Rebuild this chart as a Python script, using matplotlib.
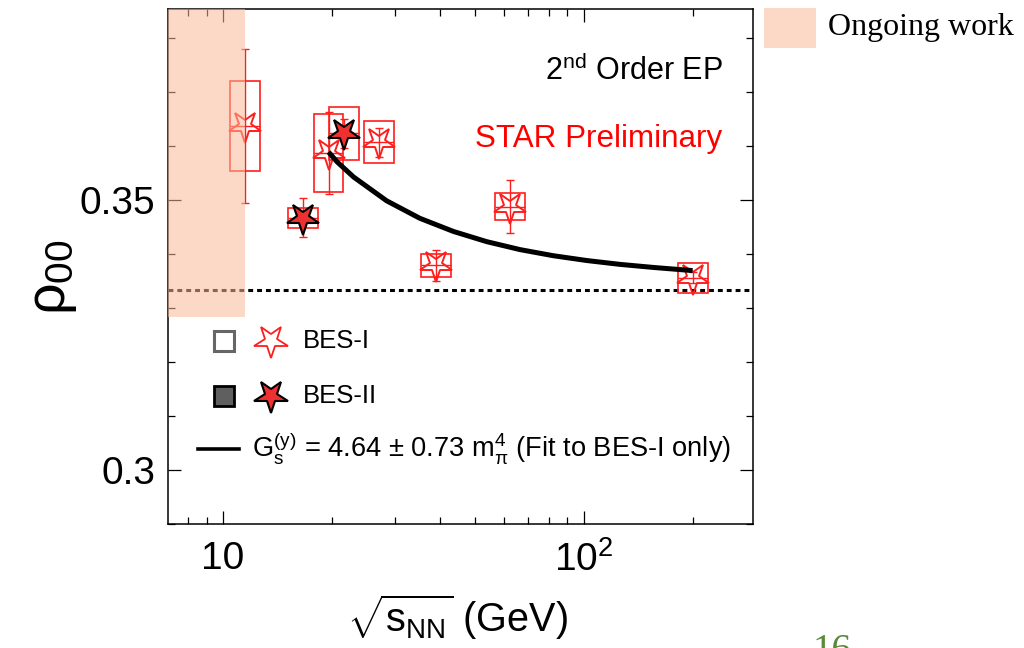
import numpy as np
import matplotlib
matplotlib.use("Agg")
import matplotlib.pyplot as plt
from matplotlib.markers import MarkerStyle
from matplotlib.transforms import Affine2D
from matplotlib.patches import Rectangle
from matplotlib.ticker import FixedLocator, LogLocator, MultipleLocator, FuncFormatter, NullFormatter

plt.rcParams["font.family"] = ["Liberation Sans", "DejaVu Sans"]
plt.rcParams["mathtext.fontset"] = "custom"
plt.rcParams["mathtext.rm"] = "Liberation Sans"
plt.rcParams["mathtext.it"] = "Liberation Sans"
plt.rcParams["mathtext.bf"] = "Liberation Sans:bold"
plt.rcParams["mathtext.sf"] = "Liberation Sans"

# ---- data ----
bes1_energy = [11.5, 19.6, 27.0, 39.0, 62.4, 200.0]
bes1_rho = [0.3637, 0.3587, 0.3607, 0.3379, 0.3488, 0.3356]
bes1_stat = [0.0142, 0.0076, 0.0027, 0.0029, 0.0049, 0.0010]
bes1_sys = [0.0083, 0.0072, 0.0039, 0.0021, 0.0025, 0.0028]

bes2_energy = [16.7, 21.6]
bes2_rho = [0.3467, 0.3624]
bes2_stat = [0.0036, 0.0027]
bes2_sys = [0.0018, 0.0049]

fit_energy = [19.6, 20.7, 23.0, 28.4, 35.1, 43.5, 53.8, 66.5, 82.2, 102.0, 126.0, 156.0, 200.0]
fit_rho = [0.35891, 0.35709, 0.35428, 0.34987, 0.34663, 0.34419, 0.34230, 0.34083,
           0.33970, 0.33880, 0.33809, 0.33752, 0.33694]

rho_unpolarized = 1.0 / 3.0
ongoing_energy_max = 11.5
ongoing_rho_min = 0.3284

# ---- style ----
RED = "#FF1E1E"
FILL_RED = "#EE3030"
PEACH = (250 / 255, 184 / 255, 151 / 255)
PEACH_ALPHA = 0.55
BOX_FACTOR = 1.10  # half-width of systematic boxes in log-x

star_down = MarkerStyle("*", transform=Affine2D().rotate_deg(180))

fig = plt.figure(figsize=(10.24, 6.48), dpi=100)
ax = fig.add_axes([168 / 1024, 1 - 524 / 648, 585 / 1024, 515 / 648])
ax.set_xscale("log")
ax.set_xlim(7.04, 294)
ax.set_ylim(0.29, 0.3854)


def draw_series(energy, rho, stat, sys, filled):
    e = np.asarray(energy)
    r = np.asarray(rho)
    s = np.asarray(sys)
    for ei, ri, si in zip(e, r, s):
        ax.add_patch(Rectangle((ei / BOX_FACTOR, ri - si), ei * BOX_FACTOR - ei / BOX_FACTOR, 2 * si,
                               fill=False, edgecolor=RED, lw=1.2, zorder=3))
    ax.hlines(r, e / BOX_FACTOR, e * BOX_FACTOR, color=RED, lw=1.0, zorder=3)
    ax.errorbar(e, r, yerr=stat, fmt="none", ecolor=RED, elinewidth=1.0,
                capsize=2.6, capthick=1.0, zorder=3)
    if filled:
        ax.plot(e, r, ls="none", marker=star_down, ms=24, mfc=FILL_RED, mec="black",
                mew=1.5, zorder=5)
    else:
        ax.plot(e, r, ls="none", marker=star_down, ms=24, mfc="none", mec=RED,
                mew=1.4, zorder=3.5)


draw_series(bes1_energy, bes1_rho, bes1_stat, bes1_sys, filled=False)
draw_series(bes2_energy, bes2_rho, bes2_stat, bes2_sys, filled=True)

# fit curve and the unpolarized baseline
ax.plot(fit_energy, fit_rho, color="black", lw=3.6, solid_capstyle="butt",
        solid_joinstyle="round", zorder=4)
ax.axhline(rho_unpolarized, color="black", lw=2.2, ls=(0, (1.6, 1.3)), zorder=2)

# shaded energy range still under study
ax.fill_between([ax.get_xlim()[0], ongoing_energy_max], ongoing_rho_min, ax.get_ylim()[1],
                color=PEACH, alpha=PEACH_ALPHA, lw=0, zorder=6)

# axes styling
for sp in ax.spines.values():
    sp.set_linewidth(1.1)
ax.xaxis.set_major_locator(FixedLocator([10, 100]))
ax.xaxis.set_minor_locator(LogLocator(base=10, subs=np.arange(2, 10), numticks=20))
ax.xaxis.set_major_formatter(FuncFormatter(lambda v, _: "10" if v < 50 else r"$10^{2}$"))
ax.xaxis.set_minor_formatter(NullFormatter())
ax.yaxis.set_major_locator(MultipleLocator(0.05))
ax.yaxis.set_minor_locator(MultipleLocator(0.01))
ax.yaxis.set_major_formatter(FuncFormatter(lambda v, _: "%g" % round(v, 3)))
ax.tick_params(which="both", direction="in", top=True, right=True, width=0.9)
ax.tick_params(which="major", length=9.5, labelsize=28)
ax.tick_params(axis="y", which="major", pad=9)
ax.tick_params(axis="x", which="major", pad=12)
ax.tick_params(which="minor", length=5)

ax.set_ylabel(r"$\rho_{00}$", fontsize=40)
ax.yaxis.set_label_coords(-0.152, 0.478)
ax.set_xlabel(r"$\sqrt{s_{\mathrm{NN}}}$ (GeV)", fontsize=28.5)
ax.xaxis.set_label_coords(0.495, -0.132)

# in-plot annotations
ax.text(0.9487, 0.8621, r"2$^{\mathrm{nd}}$ Order EP", transform=ax.transAxes,
        ha="right", va="baseline", fontsize=22)
ax.text(0.947, 0.7326, "STAR Preliminary", transform=ax.transAxes,
        ha="right", va="baseline", fontsize=22.6, color="#FF0000")

# legend keys
row_y = [0.3553, 0.2495, 0.1456]
ax.plot([0.0957], [row_y[0]], transform=ax.transAxes, marker="s", ms=14.5,
        mfc="white", mec="#666666", mew=2.2, ls="none")
ax.plot([0.1761], [row_y[0]], transform=ax.transAxes, marker=star_down, ms=25,
        mfc="none", mec=RED, mew=1.3, ls="none")
ax.text(0.2308, row_y[0], "BES-I", transform=ax.transAxes, ha="left", va="center", fontsize=18.5)
ax.plot([0.0957], [row_y[1]], transform=ax.transAxes, marker="s", ms=14.5,
        mfc="#5F5F5F", mec="black", mew=2.0, ls="none")
ax.plot([0.1761], [row_y[1]], transform=ax.transAxes, marker=star_down, ms=25,
        mfc=FILL_RED, mec="black", mew=1.5, ls="none")
ax.text(0.2308, row_y[1], "BES-II", transform=ax.transAxes, ha="left", va="center", fontsize=18.5)
ax.plot([0.0521, 0.1210], [row_y[2], row_y[2]], transform=ax.transAxes, color="black", lw=2.6)
ax.text(0.1436, row_y[2], r"$\mathrm{G_s^{(y)}}$ = 4.64 ± 0.73 $\mathrm{m_{\pi}^{4}}$ (Fit to BES-I only)",
        transform=ax.transAxes, ha="left", va="center", fontsize=19.6)

# slide-level key for the shaded region
fig.patches.append(Rectangle((764 / 1024, 1 - 48 / 648), 52 / 1024, 40 / 648,
                             transform=fig.transFigure, facecolor=PEACH, alpha=PEACH_ALPHA,
                             lw=0, figure=fig))
fig.text(828 / 1024, 1 - 28 / 648, "Ongoing work", family="Liberation Serif",
         fontsize=23, ha="left", va="center")
fig.text(813 / 1024, 15 / 648, "16", family="Liberation Serif", fontsize=28,
         color="#5A8A3A", ha="left", va="top")

fig.savefig("out.png", dpi=100)
